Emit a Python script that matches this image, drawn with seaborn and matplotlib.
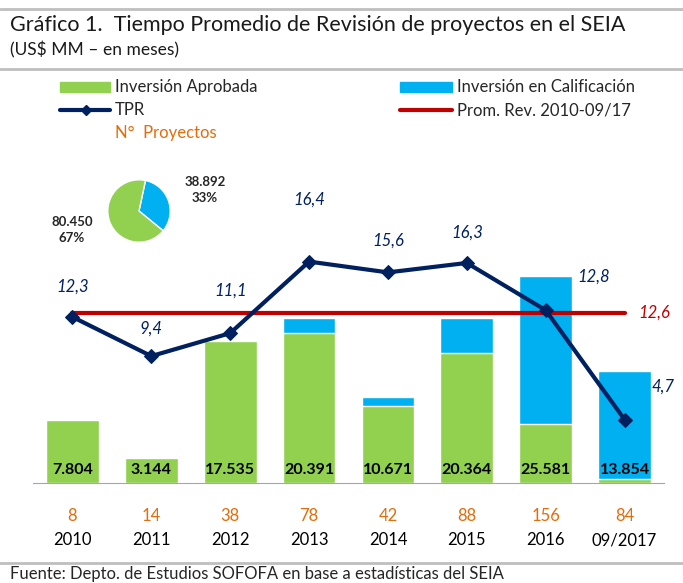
import numpy as np
import matplotlib
matplotlib.use("Agg")
import matplotlib.pyplot as plt
from matplotlib.lines import Line2D
from matplotlib.patches import Rectangle
import matplotlib.transforms as mtransforms
import seaborn as sns

# Data
years = ["2010", "2011", "2012", "2013", "2014", "2015", "2016", "09/2017"]
proyectos = [8, 14, 38, 78, 42, 88, 156, 84]
inv_aprobada = [7804, 3144, 17535, 18550, 9520, 16080, 7330, 487]
inv_calificacion = [0, 0, 0, 1841, 1151, 4284, 18251, 13367]
inv_total = [7804, 3144, 17535, 20391, 10671, 20364, 25581, 13854]
tpr = [12.3, 9.4, 11.1, 16.4, 15.6, 16.3, 12.8, 4.7]
prom_rev = 12.6
pie_values = [38892, 80450]
pie_pct = [33, 67]

GREEN = "#92D050"
BLUE = "#00B0F0"
NAVY = "#002060"
RED = "#C00000"
ORANGE = "#E46C0A"
GREY = "#BFBFBF"

sns.set_style("white")
plt.rcParams["font.family"] = ["Lato", "DejaVu Sans"]

fig = plt.figure(figsize=(6.83, 5.83), dpi=100)

def fmt_miles(v):
    return f"{v:,}".replace(",", ".")

def fx(px):
    return px / 683

def fy(py):
    return 1 - py / 583

# separator lines
for yy in [fy(9), fy(69), fy(563)]:
    fig.add_artist(Line2D([0, 1], [yy, yy], transform=fig.transFigure, color=GREY, lw=2))

# title
fig.text(fx(10), fy(25), "Gráfico 1.  Tiempo Promedio de Revisión de proyectos en el SEIA",
         fontsize=15.5, va="center", ha="left", color="#1a1a1a")
fig.text(fx(10), fy(50), "(US$ MM – en meses)", fontsize=12.5, va="center", ha="left", color="#1a1a1a")

# legend (manual)
fig.add_artist(Rectangle((fx(60), fy(92)), fx(50), 10 / 583, transform=fig.transFigure, color=GREEN))
fig.text(fx(115), fy(87), "Inversión Aprobada", fontsize=12, va="center")
fig.add_artist(Rectangle((fx(400), fy(92)), fx(52), 10 / 583, transform=fig.transFigure, color=BLUE))
fig.text(fx(457), fy(87), "Inversión en Calificación", fontsize=12, va="center")
fig.add_artist(Line2D([fx(60), fx(110)], [fy(110), fy(110)], transform=fig.transFigure, color=NAVY, lw=3))
fig.add_artist(Line2D([fx(86)], [fy(110)], transform=fig.transFigure, color=NAVY, marker="D", markersize=5))
fig.text(fx(115), fy(110), "TPR", fontsize=12, va="center")
fig.add_artist(Line2D([fx(400), fx(452)], [fy(110), fy(110)], transform=fig.transFigure, color=RED, lw=3))
fig.text(fx(457), fy(110), "Prom. Rev. 2010-09/17", fontsize=12, va="center")
fig.text(fx(115), fy(133), "N°  Proyectos", fontsize=12, va="center", color=ORANGE)

# main axes
ax = fig.add_axes([fx(33), 100 / 583, 631 / 683, 333 / 583])
sns.barplot(x=years, y=inv_total, color=BLUE, saturation=1, width=0.67, ax=ax)
sns.barplot(x=years, y=inv_aprobada, color=GREEN, saturation=1, width=0.67, ax=ax)
ax.set_xlim(-0.5, 7.5)
ax.set_ylim(0, 333 * 123.5)
ax.set_yticks([])
ax.set_xticks(np.arange(-0.5, 8, 1))
ax.set_xticklabels([])
ax.tick_params(axis="x", length=6, color="#A6A6A6", width=1, direction="out")
for s in ["top", "left", "right"]:
    ax.spines[s].set_visible(False)
ax.spines["bottom"].set_color("#A6A6A6")
ax.set_xlabel("")
ax.set_ylabel("")

for i, v in enumerate(inv_total):
    ax.text(i, 13 * 123.5, fmt_miles(v), ha="center", va="center", fontsize=11.5,
            fontweight="bold", color="black")

trans = mtransforms.blended_transform_factory(ax.transData, ax.transAxes)
for i, (n, yr) in enumerate(zip(proyectos, years)):
    ax.text(i, -33 / 333, str(n), transform=trans, ha="center", va="center", fontsize=12, color=ORANGE)
    ax.text(i, -57 / 333, yr, transform=trans, ha="center", va="center", fontsize=12, color="black")

# secondary axis: TPR
ax2 = ax.twinx()
ax2.set_ylim(0, 333 / 13.5)
ax2.axis("off")
ax2.plot([0, 7], [prom_rev, prom_rev], color=RED, lw=3, zorder=2)
sns.lineplot(x=np.arange(len(tpr)), y=tpr, color=NAVY, lw=3, marker="D", markersize=7,
             markeredgecolor=NAVY, ax=ax2, zorder=3)
ax2.text(7.38, prom_rev, f"{prom_rev:.1f}".replace(".", ","), color=RED, fontsize=12,
         style="italic", ha="center", va="center")

# label offsets in pixels (dx, dy)
label_offsets = [(0, 30), (0, 27), (0, 43), (0, 62), (0, 32), (0, 30), (48, 34), (38, 33)]
for i, (v, off) in enumerate(zip(tpr, label_offsets)):
    ax2.annotate(f"{v:.1f}".replace(".", ","), (i, v), xytext=(off[0] * 0.72, off[1] * 0.72),
                 textcoords="offset points", ha="center", va="center", fontsize=12,
                 style="italic", color=NAVY, annotation_clip=False)

# inset pie
axp = fig.add_axes([fx(100), fy(250), 78 / 683, 78 / 583])
axp.pie(pie_values, colors=[BLUE, GREEN], startangle=78, counterclock=False)
axp.set_aspect("equal")
fig.text(fx(205), fy(190), f"{fmt_miles(pie_values[0])}\n{pie_pct[0]}%", ha="center", va="center",
         fontsize=9.5, fontweight="bold", linespacing=1.4)
fig.text(fx(72), fy(230), f"{fmt_miles(pie_values[1])}\n{pie_pct[1]}%", ha="center", va="center",
         fontsize=9.5, fontweight="bold", linespacing=1.4)

# footer
fig.text(fx(10), fy(574), "Fuente: Depto. de Estudios SOFOFA en base a estadísticas del SEIA",
         fontsize=12, ha="left", va="center")

fig.savefig("out.png", dpi=100)
